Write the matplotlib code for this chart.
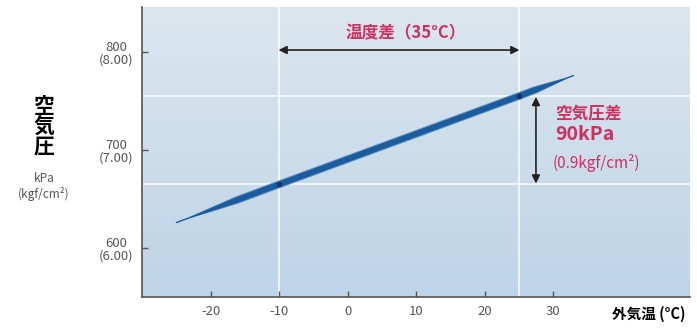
import matplotlib.pyplot as plt
import numpy as np
from matplotlib.collections import LineCollection
from matplotlib.colors import LinearSegmentedColormap

plt.rcParams['font.family'] = ['Noto Sans CJK JP', 'DejaVu Sans']

# data
temps = [-25, -10, 25, 33]          # outside temperature (°C)
pressure = [626, 665, 755, 776]     # air pressure (kPa)
marked_temps = [-10, 25]
marked_press = [665, 755]
x_ticks = [-20, -10, 0, 10, 20, 30]
y_ticks = [600, 700, 800]
y_ticklabels = ['600\n(6.00)', '700\n(7.00)', '800\n(8.00)']

red = '#d0305f'
gray = '#555555'

fig = plt.figure(figsize=(6.97, 3.29), dpi=100)
ax = fig.add_axes([0.204, 0.097, 0.786, 0.882])
ax.set_xlim(-30, 50)
ax.set_ylim(550, 846)

# gradient background
cmap = LinearSegmentedColormap.from_list('bg', ['#bed4e8', '#dce6ee'])
ax.imshow(np.linspace(0, 1, 256).reshape(-1, 1), extent=[0, 1, 0, 1],
          transform=ax.transAxes, cmap=cmap, aspect='auto', origin='lower', zorder=0)

# white guide lines
for t in marked_temps:
    ax.axvline(t, color='white', lw=1.3, alpha=0.8, zorder=1)
for p in marked_press:
    ax.axhline(p, color='white', lw=1.3, alpha=0.8, zorder=1)

# tapered line
s = np.linspace(0, 1, 300)
xs = np.interp(s, [0, 1], [temps[0], temps[-1]])
ys = np.interp(xs, temps, pressure)
pts = np.column_stack([xs, ys]).reshape(-1, 1, 2)
segs = np.concatenate([pts[:-1], pts[1:]], axis=1)
taper = np.clip(np.minimum(s[:-1] / 0.15, (1 - s[:-1]) / 0.1), 0.2, 1)
ax.add_collection(LineCollection(segs, linewidths=5.5 * taper, colors='#4f87c0',
                                 alpha=0.45, capstyle='round', zorder=2))
ax.add_collection(LineCollection(segs, linewidths=3.8 * taper, colors='#1c5c9c',
                                 capstyle='round', zorder=3))
ax.plot(marked_temps, marked_press, 'o', ms=4, color='#0d3766', mec='none', zorder=4)

# temperature difference arrow
ax.annotate('', xy=(-10.5, 802), xytext=(25.5, 802),
            arrowprops=dict(arrowstyle='<|-|>', color='#222222', lw=1.2,
                            mutation_scale=12), zorder=5)
ax.text(8.5, 819, '温度差（35°C）', color=red, fontsize=12, ha='center',
        va='center', fontweight='bold')

# pressure difference arrow
ax.annotate('', xy=(27.5, 757), xytext=(27.5, 663),
            arrowprops=dict(arrowstyle='<|-|>', color='#222222', lw=1.2,
                            mutation_scale=12), zorder=5)
ax.text(30.3, 737, '空気圧差', color=red, fontsize=12, fontweight='bold', va='center')
ax.text(30.3, 716, '90kPa', color=red, fontsize=14, fontweight='bold', va='center')
ax.text(30.0, 687, '(0.9kgf/cm²)', color=red, fontsize=11, va='center')

# axes styling
for side in ['top', 'right']:
    ax.spines[side].set_visible(False)
for side in ['left', 'bottom']:
    ax.spines[side].set_color('#555555')
    ax.spines[side].set_linewidth(1.2)
ax.set_xticks(x_ticks)
ax.set_xticklabels([str(v) for v in x_ticks])
ax.set_yticks(y_ticks)
ax.set_yticklabels(y_ticklabels, linespacing=1.0, multialignment='center')
ax.tick_params(direction='in', length=4, width=1, colors='#555555',
               labelcolor=gray, labelsize=9.5, pad=6)

fig.text(0.878, 0.045, '外気温 (°C)', fontsize=10.5, fontweight='bold', ha='left', va='center')
fig.text(0.063, 0.615, '空\n気\n圧', fontsize=15, fontweight='bold', ha='center',
         va='center', linespacing=0.95)
fig.text(0.063, 0.458, 'kPa', fontsize=8.5, color=gray, ha='center', va='center')
fig.text(0.063, 0.41, '(kgf/cm²)', fontsize=8.5, color=gray, ha='center', va='center')

fig.savefig('out.png', dpi=100)
